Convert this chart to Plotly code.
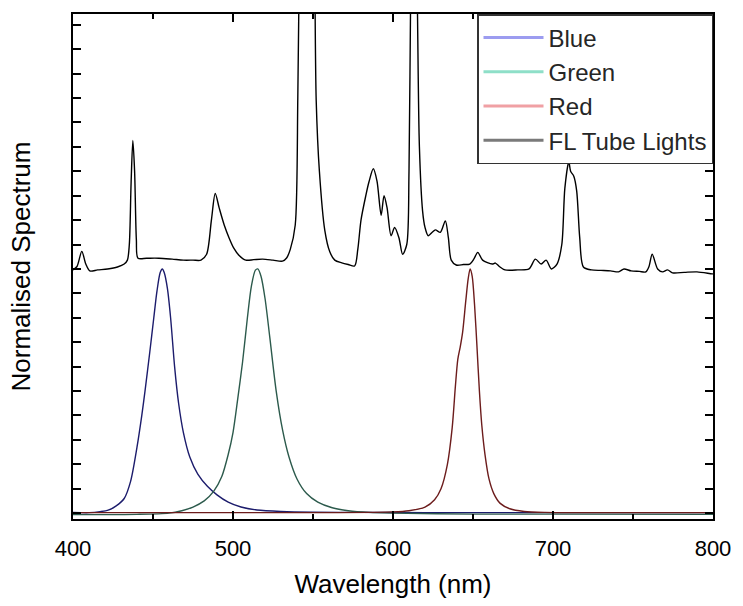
import plotly.graph_objects as go

# ---- FL tube light spectrum (offset by +1 above the LED spectra) ----
fl_wl = [400, 402.5, 405.5, 408, 410.5, 415.4, 421.6, 427.8, 432, 434, 435.2, 436.3,
         437.4, 438.5, 439.6, 440.6, 446, 453.7, 462, 469, 475, 480, 483.5, 486.5,
         488.9, 491.4, 494.5, 497.5, 500.5, 503.7, 508, 513, 518.5, 525, 530.9, 533.5,
         535.8, 538.9, 540.5, 541.5, 543, 546, 549.5, 551, 552, 554, 557.4, 560.5,
         563.6, 568, 572, 576, 578, 580, 583, 585, 587.7, 590, 592.6, 594.4, 596.3,
         598.8, 601, 603.7, 606, 608.6, 610, 611, 613, 615.2, 616.5, 618.5, 620, 622,
         624.5, 626.5, 629.6, 632.7, 634.6, 636.4, 639.5, 644, 648, 650.5, 653, 656,
         662, 664, 666.5, 670, 678, 685, 689, 692.6, 695.7, 699, 702.5, 705.5, 707.4,
         709.9, 711, 713, 714.8, 716.7, 719, 724, 730, 736, 741, 744.4, 748.8, 754,
         758, 760, 762, 765.4, 768.5, 771.6, 774.7, 782, 790, 799.4, 800]
fl_val = [0.996, 1.01, 1.072, 1.02, 0.992, 0.996, 1.0, 1.008, 1.02, 1.036, 1.1, 1.35,
          1.526, 1.4, 1.12, 1.044, 1.044, 1.044, 1.04, 1.036, 1.036, 1.036, 1.06, 1.2,
          1.309, 1.249, 1.18, 1.128, 1.085, 1.056, 1.036, 1.038, 1.04, 1.036, 1.032, 1.045,
          1.08, 1.18, 1.7, 2.3, 3.0, 3.5, 3.0, 2.3, 1.69, 1.4, 1.157, 1.07,
          1.036, 1.025, 1.018, 1.012, 1.08, 1.2, 1.3, 1.357, 1.41, 1.36, 1.22, 1.30, 1.25,
          1.136, 1.17, 1.128, 1.06, 1.10, 1.4, 2.1, 3.0, 2.1, 1.5, 1.237, 1.17, 1.136,
          1.15, 1.16, 1.15, 1.197, 1.128, 1.036, 1.016, 1.018, 1.02, 1.04, 1.068, 1.036,
          1.02, 1.024, 1.01, 0.996, 0.996, 1.0, 1.04, 1.02, 1.036, 1.0, 1.02, 1.10, 1.33,
          1.44, 1.40, 1.38, 1.32, 1.128, 1.008, 0.996, 0.994, 0.992, 0.988, 1.0, 0.992, 0.99,
          0.988, 1.01, 1.06, 1.0, 0.988, 0.996, 0.984, 0.986, 0.988, 0.98, 0.98]

# ---- LED spectra (normalised to peak = 1) ----
blue_wl = [400, 410, 417, 422, 427, 432, 436, 440, 443, 445, 448, 450.5, 452.5, 454.5,
           455.8, 457, 459, 461, 463.5, 466, 469, 473, 478, 484, 490, 497, 505, 515,
           530, 550, 580, 620, 680, 740, 800]
blue_val = [0.003, 0.002, 0.006, 0.012, 0.03, 0.06, 0.13, 0.27, 0.4, 0.5, 0.66, 0.8, 0.91,
            0.985, 1.0, 0.985, 0.92, 0.8, 0.6, 0.45, 0.33, 0.23, 0.16, 0.11, 0.075, 0.045,
            0.025, 0.013, 0.007, 0.004, 0.003, 0.002, 0.002, 0.002, 0.002]

green_wl = [400, 440, 460, 468, 475, 482, 488, 493, 497, 500, 503, 506, 509, 511.5, 514,
            515.5, 517.5, 520, 523, 527, 531, 535, 540, 546, 553, 562, 572, 585, 600,
            650, 700, 800]
green_val = [-0.006, -0.005, 0.0, 0.01, 0.025, 0.05, 0.09, 0.15, 0.24, 0.33, 0.47, 0.62,
             0.8, 0.93, 0.995, 1.0, 0.97, 0.88, 0.72, 0.5, 0.34, 0.23, 0.14, 0.08, 0.045,
             0.022, 0.01, 0.003, 0.0, -0.004, -0.004, -0.005]

red_wl = [400, 560, 600, 610, 620, 626, 630, 634, 637, 639, 640.5, 642, 643.5, 645.5, 647,
          648.2, 649.5, 651, 652.5, 654, 655.5, 657.5, 660, 663, 667, 673, 682, 695, 720, 800]
red_val = [0.002, 0.002, 0.005, 0.01, 0.025, 0.055, 0.1, 0.2, 0.35, 0.52, 0.63, 0.68, 0.74,
           0.87, 0.96, 1.0, 0.97, 0.85, 0.68, 0.5, 0.36, 0.24, 0.14, 0.08, 0.04, 0.018,
           0.007, 0.003, 0.002, 0.002]

series_names = ["Blue", "Green", "Red", "FL Tube Lights"]
line_colors = ["#1c1c6c", "#2c5a4c", "#6c1c1c", "#000000"]
legend_colors = ["#9c9cf0", "#8edfc8", "#f0a0a4", "#7a7a7a"]

FONT = "Liberation Sans, Arial, sans-serif"

fig = go.Figure()
for name, x, y, col in zip(series_names,
                           [blue_wl, green_wl, red_wl, fl_wl],
                           [blue_val, green_val, red_val, fl_val],
                           line_colors):
    fig.add_trace(go.Scatter(
        x=x, y=y, mode="lines", name=name, legendgroup=name, showlegend=False,
        line=dict(color=col, width=1.4, shape="spline", smoothing=0.8),
    ))

# legend keys drawn in lighter tints
for name, col in zip(series_names, legend_colors):
    fig.add_trace(go.Scatter(
        x=[None], y=[None], mode="lines", name=name, legendgroup=name,
        line=dict(color=col, width=3),
    ))

fig.update_layout(
    width=743, height=606,
    margin=dict(l=73, r=20, t=12, b=79),
    paper_bgcolor="white", plot_bgcolor="white",
    font=dict(family=FONT, color="#000000"),
    legend=dict(
        x=1, y=1, xanchor="right", yanchor="top",
        bgcolor="white", bordercolor="#333333", borderwidth=1.5,
        font=dict(family=FONT, size=24, color="#262626"),
        itemwidth=60, tracegroupgap=0,
    ),
)

fig.update_xaxes(
    range=[400, 800], tick0=400, dtick=100,
    ticks="inside", ticklen=8, tickwidth=1.5, tickcolor="black",
    minor=dict(dtick=50, ticks="inside", ticklen=5, tickwidth=1.5, tickcolor="black"),
    showline=True, linecolor="black", linewidth=1.6, mirror="ticks",
    showgrid=False, zeroline=False,
    tickfont=dict(family=FONT, size=22, color="black"),
    ticklabelstandoff=9,
    title=dict(text="Wavelength (nm)", font=dict(family=FONT, size=26, color="black"),
               standoff=15),
)
fig.update_yaxes(
    range=[-0.024, 2.044], tick0=0, dtick=0.1,
    ticks="inside", ticklen=8, tickwidth=1.5, tickcolor="black",
    showticklabels=False,
    showline=True, linecolor="black", linewidth=1.6, mirror="ticks",
    showgrid=False, zeroline=False,
    title=dict(text="Normalised Spectrum", font=dict(family=FONT, size=26, color="black"),
               standoff=33),
)

fig.write_html("out.html")
